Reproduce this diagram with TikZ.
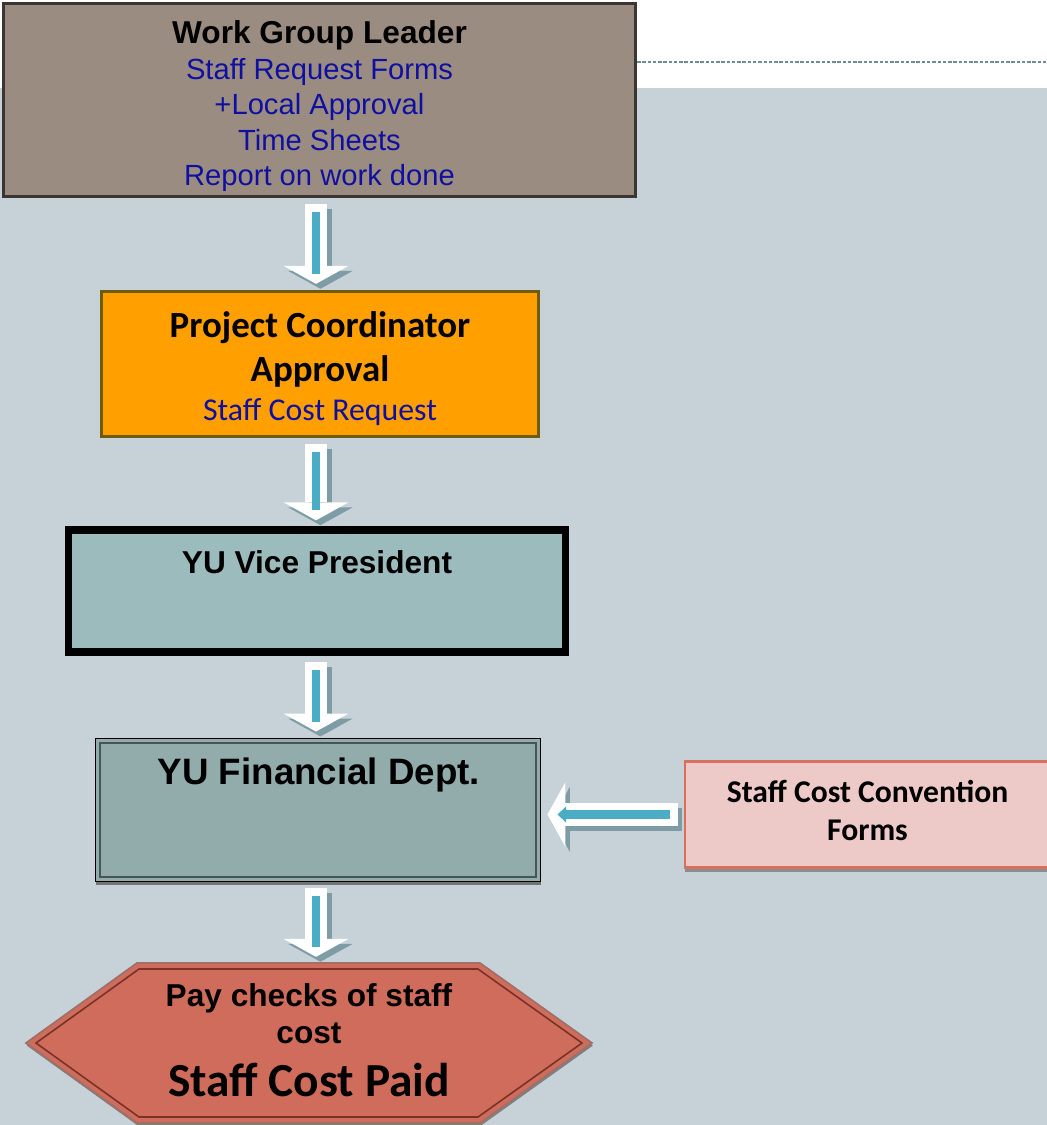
\documentclass[tikz,border=0pt]{standalone}
\usepackage{fontspec}
\setmainfont{Liberation Sans}
\newfontfamily\calibri{Carlito}
\usetikzlibrary{arrows.meta,shadows}

\definecolor{panel}{RGB}{198,210,216}
\definecolor{leaderfill}{RGB}{154,140,128}
\definecolor{leaderdraw}{RGB}{60,54,50}
\definecolor{formblue}{RGB}{16,16,160}
\definecolor{coordfill}{RGB}{255,160,0}
\definecolor{coorddraw}{RGB}{110,92,10}
\definecolor{vicefill}{RGB}{155,187,189}
\definecolor{finfill}{RGB}{146,171,171}
\definecolor{findraw}{RGB}{70,85,85}
\definecolor{convfill}{RGB}{237,202,199}
\definecolor{convdraw}{RGB}{216,112,94}
\definecolor{paidfill}{RGB}{208,108,92}
\definecolor{paiddraw}{RGB}{120,50,40}
\definecolor{stripe}{RGB}{75,172,198}
\definecolor{arrowshade}{RGB}{126,156,166}
\definecolor{rulecolor}{RGB}{110,140,150}

\newcommand{\blockarrow}[3][]{%
  \draw[flowshade] ([shift={(2.5pt,-2.8pt)}]#2) -- ([shift={(2.5pt,-2.8pt)}]#3);
  \draw[flowbody] (#2) -- (#3);
  \draw[flowstripe,#1] (#2) -- (#3);
}

\begin{document}
\begin{tikzpicture}[x=2cm, y=-2cm,
    flowbody/.style = {line width=13pt, white, shorten <=3.5pt, shorten >=3.5pt,
                       -{Triangle[width=36.8pt,length=10.2pt,line width=0pt]}},
    flowshade/.style = {flowbody, arrowshade},
    flowstripe/.style = {line width=5.1pt, stripe, shorten <=8pt, shorten >=9.2pt},
    leaderbox/.style = {draw=leaderdraw, line width=1.7pt, fill=leaderfill,
                        minimum width=12.64cm, minimum height=3.86cm,
                        drop shadow={shadow xshift=1pt, shadow yshift=-1pt, fill=black!60, opacity=1}},
    coordbox/.style = {draw=coorddraw, line width=1.7pt, fill=coordfill,
                       minimum width=8.74cm, minimum height=2.9cm,
                       drop shadow={shadow xshift=1pt, shadow yshift=-1pt, fill=olive, opacity=1}},
    vicebox/.style = {draw=black, line width=4pt, fill=vicefill,
                      minimum width=9.94cm, minimum height=2.44cm},
    finbox/.style = {draw=black, line width=0.9pt, fill=finfill,
                     minimum width=8.9cm, minimum height=2.86cm,
                     drop shadow={shadow xshift=0.5pt, shadow yshift=-2pt, fill=black!55, opacity=1}},
    fininner/.style = {draw=findraw, line width=1.2pt},
    convbox/.style = {draw=convdraw, line width=1.3pt, fill=convfill,
                      minimum width=7.3cm, minimum height=2.12cm,
                      drop shadow={shadow xshift=0pt, shadow yshift=-2.6pt, fill=black!45, opacity=1}},
    paidshape/.style = {draw=paiddraw!70, line width=1pt, fill=paidfill,
                        drop shadow={shadow xshift=0.5pt, shadow yshift=-1.5pt, fill=black!50, opacity=1}},
    paidinner/.style = {draw=paiddraw, line width=0.9pt},
    boldtext/.style = {font=\bfseries\fontsize{18}{21}\selectfont, align=center}]

  \useasboundingbox (0,0) rectangle (10.47,11.25);
  \fill[panel] (0,0.88) rectangle (10.47,11.25);
  \draw[rulecolor, line width=0.6pt, dash pattern=on 2pt off 1pt] (6.37,0.62) -- (10.47,0.62);

  \node[leaderbox] (wgl) at (3.195,1.00) {};
  \node[align=center, text=formblue, font=\fontsize{16.6}{20.2}\selectfont] (wgltext) at (3.195,1.065)
    {{\color{black}\bfseries\fontsize{18}{20.2}\selectfont Work Group Leader}\\
     Staff Request Forms\\ +Local Approval\\ Time Sheets\\ Report on work done};

  \node[coordbox] (pc) at (3.20,3.64) {};
  \node[align=center, font=\calibri\fontsize{21}{25}\selectfont] (pctext) at (3.20,3.685)
    {{\bfseries Project Coordinator}\\ {\bfseries Approval}\\[-2.8pt]
     {\color{formblue}\fontsize{18.1}{21}\selectfont Staff Cost Request}};

  \node[vicebox] (vp) at (3.17,5.91) {};
  \node[boldtext] (vptext) at (3.17,5.62) {YU Vice President};

  \node[finbox] (fd) at (3.18,8.10) {};
  \draw[fininner] ([shift={(3pt,-3pt)}]fd.north west) rectangle ([shift={(-3pt,3pt)}]fd.south east);
  \node[font=\bfseries\fontsize{20.9}{24}\selectfont] (fdtext) at (3.19,7.75) {YU Financial Dept.};

  \node[convbox] (scc) at (8.675,8.145) {};
  \node[align=center, font=\calibri\bfseries\fontsize{18}{21.5}\selectfont] (scctext) at (8.675,8.105)
    {Staff Cost Convention\\ Forms};

  \draw[paidshape] (0.26,10.43) -- (1.37,9.63) -- (4.80,9.63) -- (5.92,10.43)
                   -- (4.80,11.23) -- (1.37,11.23) -- cycle;
  \draw[paidinner] (0.36,10.43) -- (1.39,9.69) -- (4.78,9.69) -- (5.82,10.43)
                   -- (4.78,11.17) -- (1.39,11.17) -- cycle;
  \coordinate (hextop) at (3.16,9.63);
  \node[boldtext] (hextext) at (3.09,10.135) {Pay checks of staff\\ cost};
  \node[font=\calibri\bfseries\fontsize{27}{30}\selectfont] (paidtext) at (3.09,10.80) {Staff Cost Paid};

  \blockarrow{wgl.south -| hextop}{pc.north -| hextop}
  \blockarrow{pc.south -| hextop}{vp.north -| hextop}
  \blockarrow{vp.south -| hextop}{fd.north -| hextop}
  \blockarrow{fd.south -| hextop}{hextop}
  \blockarrow[-{Triangle[width=9pt,length=5pt]}]{scc.west}{scc.west -| fd.east}
\end{tikzpicture}
\end{document}
